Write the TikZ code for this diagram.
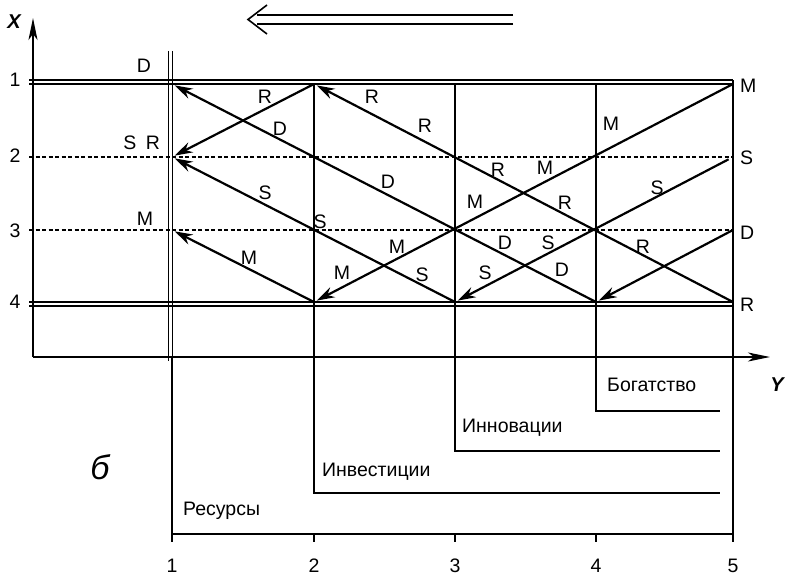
\documentclass[tikz,border=0pt]{standalone}
\usepackage{fontspec}
\setmainfont{Liberation Sans}
\usetikzlibrary{arrows.meta}
\begin{document}
\begin{tikzpicture}[x=1pt,y=-1pt,
  lbl/.style={font=\fontsize{19.5}{21}\selectfont, inner sep=0pt},
  gridline/.style={line width=1.4pt},
  flow/.style={line width=2.2pt, -{Stealth[length=18pt,width=11pt,inset=6pt]}, shorten >=3pt},
  rowdash/.style={line width=1.2pt, dash pattern=on 4pt off 2.5pt},
  axis/.style={line width=2pt, -{Stealth[length=22pt,width=9pt,inset=6pt]}}
]
\useasboundingbox (0,0) rectangle (791,578);

% grid points: column c (1..5), row r (1..4)
\foreach \c/\xx in {1/172,2/314,3/455,4/596,5/733}{
  \foreach \r/\yy in {1/84,2/157,3/230,4/302}{
    \coordinate (p\c\r) at (\xx,\yy);
  }
}

% axes
\coordinate (o) at (33,357);
\coordinate (ytip) at (33,18);
\coordinate (xtip) at (770,357);
\draw[axis] (o) -- (ytip);
\draw[axis] (o) -- (xtip);
\node[font=\fontsize{20}{22}\selectfont\bfseries\itshape] (xlab) at (14,22) {X};
\node[font=\fontsize{20}{22}\selectfont\bfseries\itshape] (ylab) at (777,385) {Y};

% row lines: double at 1 and 4, dashed at 2 and 3
\draw[gridline] (29,80) -- (733,80);
\draw[gridline] (29,84) -- (733,84);
\draw[rowdash] (29,157) -- (733,157);
\draw[rowdash] (29,230) -- (733,230);
\draw[gridline] (29,302) -- (733,302);
\draw[gridline] (29,306) -- (733,306);

% row numbers
\node[lbl] (r1) at (15,80) {1};
\node[lbl] (r2) at (15,156) {2};
\node[lbl] (r3) at (15,231) {3};
\node[lbl] (r4) at (15,302) {4};

% double vertical line at column 1
\draw[gridline] (168.5,51) -- (168.5,361);
\draw[gridline] (172.5,51) -- (172.5,361);
\draw[gridline] (172,357) -- (172,542);

% stage boundaries
\draw[gridline] (314,84) -- (314,493) -- (720,493);
\draw[gridline] (455,84) -- (455,451) -- (720,451);
\draw[gridline] (596,84) -- (596,411) -- (720,411);
\draw[gridline] (733,80) -- (733,542);
\draw[gridline] (172,534) -- (733,534);
\foreach \xx in {314,455,596}{\draw[gridline] (\xx,534) -- (\xx,542);}

% stage names
\node[lbl, anchor=west] (res) at (183,511) {Ресурсы};
\node[lbl, anchor=west] (inv) at (322,472) {Инвестиции};
\node[lbl, anchor=west] (inn) at (462,428) {Инновации};
\node[lbl, anchor=west] (bog) at (607,385) {Богатство};

% column numbers
\node[lbl] (c1) at (172,566) {1};
\node[lbl] (c2) at (314,566) {2};
\node[lbl] (c3) at (455,566) {3};
\node[lbl] (c4) at (596,566) {4};
\node[lbl] (c5) at (733,566) {5};

\node[font=\fontsize{34}{36}\selectfont\itshape] (b) at (100,467) {б};

% direction arrow on top
\coordinate (da) at (513,15);
\coordinate (db) at (257,15);
\coordinate (dc) at (513,24);
\coordinate (dd) at (257,24);
\coordinate (dt) at (248,19.5);
\draw[line width=1.6pt] (da) -- (db);
\draw[line width=1.6pt] (dc) -- (dd);
\draw[line width=1.6pt] (267,5) -- (dt) -- (267,34);

% flows
\draw[flow] (p54) -- (p21);   % R
\draw[flow] (p21) -- (p12);   % R
\draw[flow] (p51) -- (p24);   % M
\draw[flow] (p24) -- (p13);   % M
\draw[flow, shorten <=5pt] (p52) -- (p34);   % S
\draw[flow] (p34) -- (p12);   % S
\draw[flow] (p53) -- (p44);   % D
\draw[flow] (p44) -- (p11);   % D

% end labels at column 5
\node[lbl, anchor=west] (e1) at (740,86) {M};
\node[lbl, anchor=west] (e2) at (740,158) {S};
\node[lbl, anchor=west] (e3) at (740,233) {D};
\node[lbl, anchor=west] (e4) at (740,305) {R};

% labels at column 1
\node[lbl] (l1) at (144,66) {D};
\node[lbl] (l2) at (130,143) {S};
\node[lbl] (l3) at (153,143) {R};
\node[lbl] (l4) at (145,219) {M};

% labels along the flows
\node[lbl] at (265,97) {R};
\node[lbl] at (280,129) {D};
\node[lbl] at (372,97) {R};
\node[lbl] at (425,126) {R};
\node[lbl] at (388,182) {D};
\node[lbl] at (265,193) {S};
\node[lbl] at (320,222) {S};
\node[lbl] at (249,258) {M};
\node[lbl] at (342,273) {M};
\node[lbl] at (397,247) {M};
\node[lbl] at (422,275) {S};
\node[lbl] at (475,202) {M};
\node[lbl] at (498,170) {R};
\node[lbl] at (545,168) {M};
\node[lbl] at (565,203) {R};
\node[lbl] at (611,124) {M};
\node[lbl] at (657,188) {S};
\node[lbl] at (505,243) {D};
\node[lbl] at (548,243) {S};
\node[lbl] at (485,273) {S};
\node[lbl] at (562,270) {D};
\node[lbl] at (643,247) {R};
\end{tikzpicture}
\end{document}
